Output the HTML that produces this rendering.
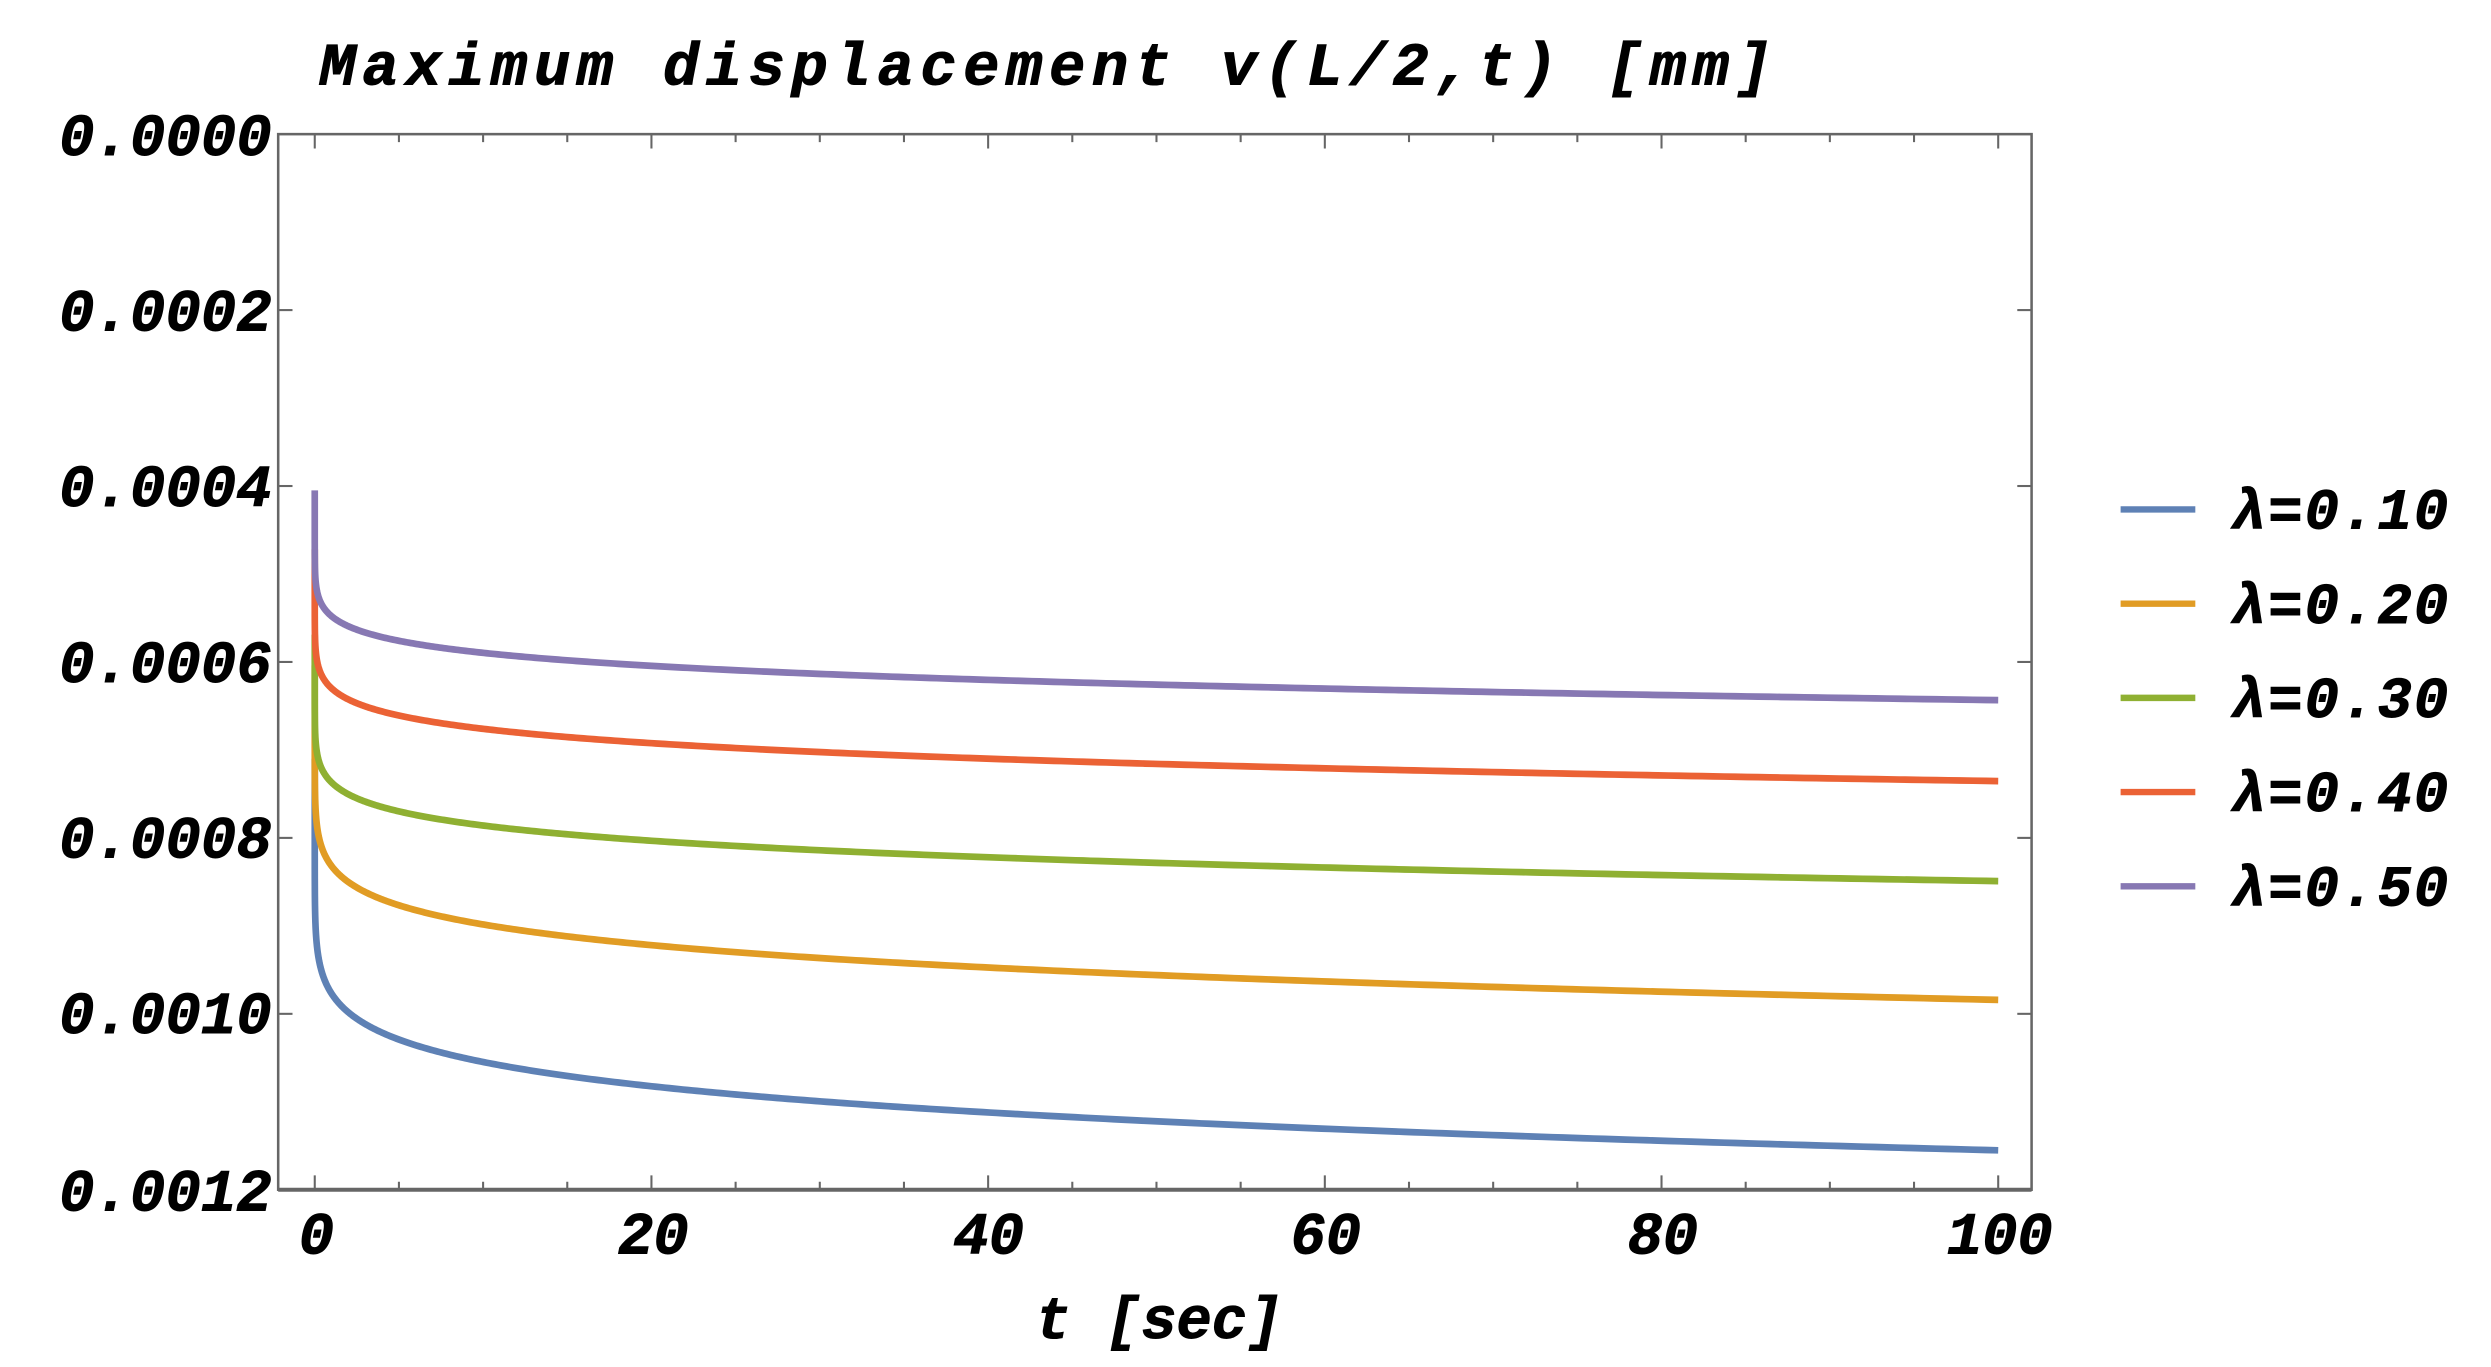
<!DOCTYPE html>
<html><head><meta charset="utf-8"><style>
html,body{margin:0;padding:0;background:#fff;}
svg{display:block;}
text{font-family:"Liberation Mono",monospace;font-weight:bold;font-style:italic;fill:#000;stroke:#000;stroke-width:0.6;}
</style></head><body>
<svg id="s" width="2491" height="1367" viewBox="0 0 1567 856" preserveAspectRatio="none" xmlns="http://www.w3.org/2000/svg">
<rect width="1567" height="856" fill="#fff"/>
<text x="201" y="53" font-size="38" letter-spacing="4.2">Maximum displacement v(L/2,t) [mm]</text>
<g id="ticks" stroke="#666" stroke-width="1.3"></g>
<rect x="175" y="84" width="1103" height="661" fill="none" stroke="#666" stroke-width="1.6"/>
<line x1="175" y1="745" x2="1278" y2="745" stroke="#666" stroke-width="2.5"/>
<g font-size="37" text-anchor="end" letter-spacing="0.1">
<text x="171" y="97">0.0000</text>
<text x="171" y="207">0.0002</text>
<text x="171" y="317">0.0004</text>
<text x="171" y="427">0.0006</text>
<text x="171" y="537">0.0008</text>
<text x="171" y="647">0.0010</text>
<text x="171" y="758">0.0012</text>
</g>
<g font-size="37" text-anchor="middle">
<text x="199" y="785">0</text>
<text x="411" y="785">20</text>
<text x="622" y="785">40</text>
<text x="834" y="785">60</text>
<text x="1046" y="785">80</text>
<text x="1258" y="785">100</text>
</g>
<text x="729" y="838" font-size="37" text-anchor="middle">t [sec]</text>
<g id="curves" fill="none" stroke-width="4.2" stroke-linejoin="round"></g>
<g stroke-width="4">
<line x1="1334" y1="319" x2="1381" y2="319" stroke="#5e81b5"/>
<line x1="1334" y1="378" x2="1381" y2="378" stroke="#e19c24"/>
<line x1="1334" y1="437" x2="1381" y2="437" stroke="#8fb032"/>
<line x1="1334" y1="496" x2="1381" y2="496" stroke="#eb6235"/>
<line x1="1334" y1="555" x2="1381" y2="555" stroke="#8778b3"/>
</g>
<g font-size="36" letter-spacing="1.3">
<text x="1404" y="331">λ=0.10</text>
<text x="1404" y="390">λ=0.20</text>
<text x="1404" y="449">λ=0.30</text>
<text x="1404" y="508">λ=0.40</text>
<text x="1404" y="567">λ=0.50</text>
</g>
</svg>
<script>
var tk=document.getElementById("ticks"),h="";
for(var t=0;t<=100;t+=5){var x=198+t*10.59,L=(t%20==0)?9:5;
h+='<line x1="'+x+'" y1="745" x2="'+x+'" y2="'+(745-L)+'"/><line x1="'+x+'" y1="84" x2="'+x+'" y2="'+(84+L)+'"/>';}
for(var i=1;i<6;i++){var y=84+i*110.17;
h+='<line x1="175" y1="'+y+'" x2="184" y2="'+y+'"/><line x1="1278" y1="'+y+'" x2="1269" y2="'+y+'"/>';}
tk.innerHTML=h;
var cs=[["#5e81b5",0.00071,0.000267],["#e19c24",0.000604,0.000228],["#8fb032",0.000569,0.000168],["#eb6235",0.000472,0.000158],["#8778b3",0.000405,0.000143]];
var g=document.getElementById("curves"),o="";
cs.forEach(function(c){var d="";
for(var k=0;k<=400;k++){var t=100*Math.pow(k/400,3);var v=c[1]+c[2]*Math.pow(t,0.111);
var x=198+t*10.59,y=84+v/0.0002*110.17;d+=(k?"L":"M")+x.toFixed(2)+","+y.toFixed(2);}
o+='<path stroke="'+c[0]+'" d="'+d+'"/>';});
g.innerHTML=o;
</script>
</body></html>
